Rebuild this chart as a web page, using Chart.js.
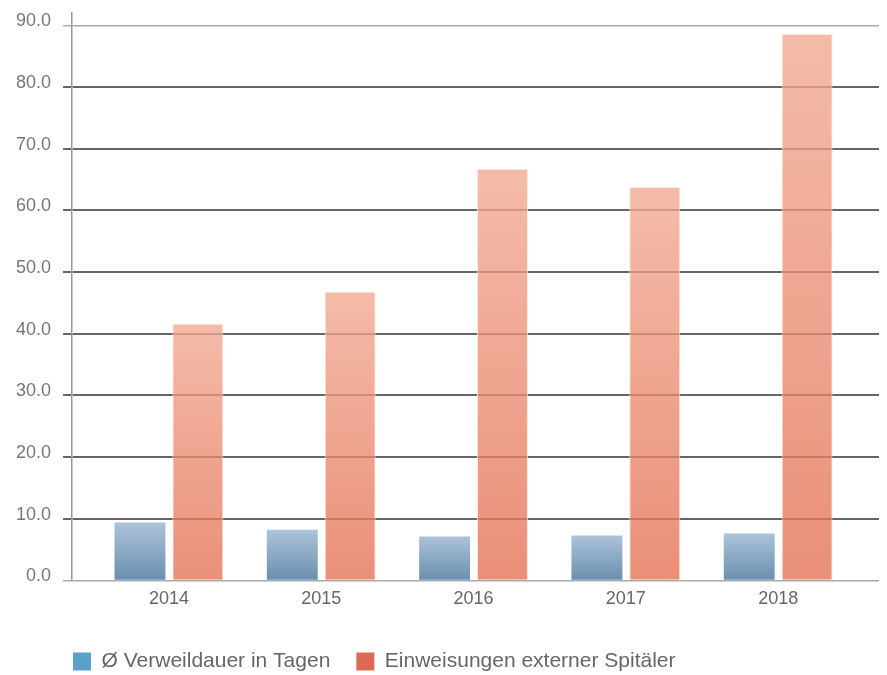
<!DOCTYPE html>
<html>
<head>
<meta charset="utf-8">
<script src="https://cdn.jsdelivr.net/npm/chart.js@4/dist/chart.umd.min.js"></script>
<style>
  html, body { margin: 0; padding: 0; background: #fff; }
  #wrap { width: 887px; height: 675px; }
</style>
</head>
<body>
<div id="wrap"><canvas id="myBarChart"></canvas></div>
<script>
const years = ['2014', '2015', '2016', '2017', '2018'];
const verweildauer = [9.4, 8.2, 7.1, 7.3, 7.6];
const einweisungen = [41.6, 46.8, 66.7, 63.8, 88.6];
const yTicks = [0, 10, 20, 30, 40, 50, 60, 70, 80, 90];
const seriesNames = ['Ø Verweildauer in Tagen', 'Einweisungen externer Spitäler'];

const legendColors = ['#5aa0c9', '#dc6b55'];
const fontFamily = "'Liberation Sans', Arial, sans-serif";

// vertical gradient per bar, light at the top, darker at the base
function barGradient(top, bottom) {
  return function(ctx) {
    const chart = ctx.chart;
    if (!chart.chartArea) return bottom;
    const y = chart.scales.y;
    const v = ctx.raw ? ctx.raw.y : 0;
    const y0 = y.getPixelForValue(v);
    const y1 = y.getPixelForValue(0);
    if (!isFinite(y0) || !isFinite(y1) || y0 === y1) return bottom;
    const g = chart.ctx.createLinearGradient(0, y0, 0, y1);
    g.addColorStop(0, top);
    g.addColorStop(1, bottom);
    return g;
  };
}

// legend sits under the y axis line, not at the canvas edge
const legendPlace = {
  id: 'legendPlace',
  afterLayout(chart) {
    const lg = chart.legend;
    if (!lg) return;
    const pad = lg.options.labels.padding;
    const dx = chart.chartArea.left + 1 - (lg.left + pad);
    lg.left += dx;
    lg.right += dx;
    lg.top = 651 - pad;
  }
};

const toPoints = arr => arr.map((v, i) => ({ x: Number(years[i]), y: v }));

const barCtx = document.getElementById('myBarChart').getContext('2d');

const myBarChart = new Chart(barCtx, {
  type: 'bar',
  plugins: [legendPlace],
  data: {
    datasets: [{
      label: seriesNames[0],
      data: toPoints(verweildauer),
      backgroundColor: barGradient('rgba(150,178,206,0.78)', 'rgba(62,112,152,0.78)'),
      borderWidth: 0,
      categoryPercentage: 0.76,
      barPercentage: 0.88
    }, {
      label: seriesNames[1],
      data: toPoints(einweisungen),
      backgroundColor: barGradient('rgba(241,168,145,0.78)', 'rgba(228,112,82,0.78)'),
      borderColor: 'rgba(255,225,215,0.9)',
      borderWidth: 1,
      categoryPercentage: 0.76,
      barPercentage: 0.88
    }]
  },
  options: {
    responsive: true,
    maintainAspectRatio: false,
    animation: false,
    layout: { padding: { left: 4, right: 8, top: 13, bottom: 0 } },
    scales: {
      x: {
        type: 'linear',
        offset: false,
        min: 2013.364,
        max: 2018.662,
        afterBuildTicks: scale => { scale.ticks = years.map(v => ({ value: Number(v) })); },
        grid: { display: false, drawTicks: false, tickLength: 0 },
        border: { display: false },
        ticks: {
          color: '#666',
          padding: 8,
          font: { family: fontFamily, size: 18 },
          callback: v => String(v)
        }
      },
      y: {
        min: 0,
        max: 92,
        afterBuildTicks: scale => { scale.ticks = yTicks.map(v => ({ value: v })); },
        // the top label is shifted up, so no extra room is reserved above the axis
        afterFit: scale => { scale.paddingTop = 0; },
        grid: {
          color: c => (c.tick && (c.tick.value === 0 || c.tick.value === 90)) ? '#aaaaaa' : '#666666',
          lineWidth: c => (c.tick && (c.tick.value === 0 || c.tick.value === 90)) ? 1.5 : 2,
          tickLength: 9
        },
        border: { display: true, color: '#999', width: 1.5 },
        ticks: {
          color: '#777',
          padding: 12,
          labelOffset: -4,
          font: { family: fontFamily, size: 18 },
          callback: v => v.toFixed(1)
        }
      }
    },
    plugins: {
      tooltip: { enabled: false },
      legend: {
        position: 'bottom',
        align: 'start',
        labels: {
          boxWidth: 18,
          boxHeight: 18,
          padding: 26,
          color: '#666',
          font: { family: fontFamily, size: 21 },
          generateLabels: chart => chart.data.datasets.map((ds, i) => ({
            text: ds.label,
            fillStyle: legendColors[i],
            strokeStyle: legendColors[i],
            lineWidth: 0,
            hidden: false,
            datasetIndex: i,
            fontColor: '#666'
          }))
        }
      }
    }
  }
});
</script>
</body>
</html>
